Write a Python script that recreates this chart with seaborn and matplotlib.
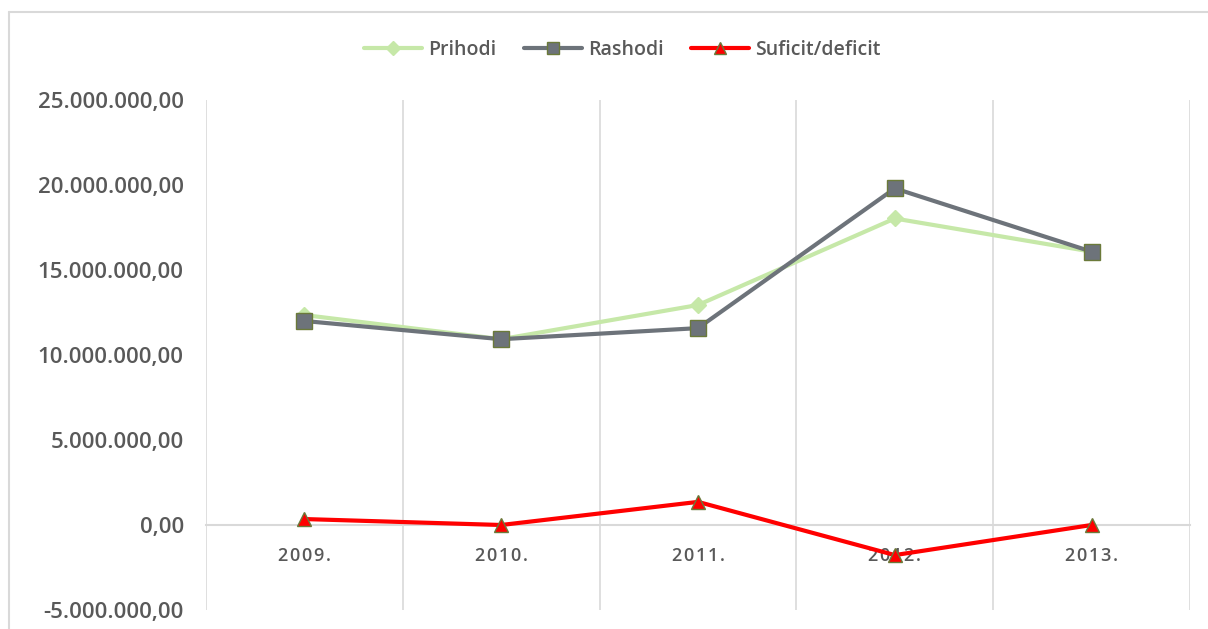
import pandas as pd
import matplotlib.pyplot as plt
import seaborn as sns
from matplotlib.lines import Line2D
from matplotlib.ticker import FuncFormatter

# Data
years = ['2009.', '2010.', '2011.', '2012.', '2013.']
prihodi = [12350000, 10930000, 12940000, 18030000, 16080000]
rashodi = [12000000, 10930000, 11580000, 19800000, 16080000]
suficit = [350000, 0, 1360000, -1770000, 0]

df = pd.DataFrame({'Godina': years, 'Prihodi': prihodi,
                   'Rashodi': rashodi, 'Suficit/deficit': suficit})

sns.set_style('white')
plt.rcParams['font.family'] = ['Open Sans', 'DejaVu Sans']

fig = plt.figure(figsize=(12.08, 6.29), dpi=100)
ax = fig.add_axes([206 / 1208, 1 - 610 / 629, (1190 - 206) / 1208, (610 - 100) / 629])

text_col = '#595959'
edge_col = '#6b7a3a'
styles = {
    'Prihodi': dict(color='#c6e8a8', marker='D', ms=8, mec='#c6e8a8'),
    'Rashodi': dict(color='#6d737a', marker='s', ms=11, mec=edge_col),
    'Suficit/deficit': dict(color='#ff0000', marker='^', ms=10, mec=edge_col),
}

x = list(range(len(years)))
for name, st in styles.items():
    sns.lineplot(x=x, y=df[name], ax=ax, color=st['color'], linewidth=3,
                 marker=st['marker'], markersize=st['ms'],
                 markeredgecolor=st['mec'], markeredgewidth=1,
                 markerfacecolor=st['color'], legend=False)

ax.set_xlim(-0.5, len(years) - 0.5)
ax.set_ylim(-5000000, 25000000)
ax.set_yticks(range(-5000000, 25000001, 5000000))


def fmt(v, pos):
    s = f"{abs(v):,.2f}".replace(',', 'X').replace('.', ',').replace('X', '.')
    return ('-' if v < 0 else '') + s


ax.yaxis.set_major_formatter(FuncFormatter(fmt))
ax.set_xticks(x)
# spread the year labels a little, like the original
ax.set_xticklabels(['\u200a'.join(y) for y in years])
ax.set_xticks([i - 0.5 for i in range(len(years) + 1)], minor=True)
ax.grid(axis='x', which='minor', color='#d9d9d9', linewidth=1.2)
ax.grid(axis='x', which='major', visible=False)
ax.grid(axis='y', visible=False)

for side in ['top', 'right', 'left']:
    ax.spines[side].set_visible(False)
ax.spines['bottom'].set_position(('data', 0))
ax.spines['bottom'].set_color('#d9d9d9')
ax.spines['bottom'].set_linewidth(1.5)
ax.spines['bottom'].set_zorder(0.5)

ax.tick_params(axis='x', which='both', length=0, pad=16, labelsize=13, labelcolor=text_col)
ax.tick_params(axis='y', length=0, pad=16, labelsize=16, labelcolor=text_col)
for lbl in ax.get_xticklabels():
    lbl.set_fontweight('semibold')
for lbl in ax.get_yticklabels():
    lbl.set_fontweight('semibold')
ax.set_xlabel('')
ax.set_ylabel('')

handles = [Line2D([0], [0], color=st['color'], lw=3, marker=st['marker'],
                  markersize=st['ms'] * 0.85, markerfacecolor=st['color'],
                  markeredgecolor=st['mec']) for st in styles.values()]
leg = fig.legend(handles, list(styles.keys()), loc='center', ncol=3,
                 bbox_to_anchor=(0.515, 1 - 50 / 629), frameon=False,
                 fontsize=14, handlelength=3, columnspacing=1.4, handletextpad=0.3)
for t in leg.get_texts():
    t.set_color(text_col)
    t.set_fontweight('semibold')

# chart area border
fig.add_artist(Line2D([9 / 1208, 1], [1 - 12 / 629, 1 - 12 / 629],
                      transform=fig.transFigure, color='#d9d9d9', lw=1.5))
fig.add_artist(Line2D([9 / 1208, 9 / 1208], [0, 1 - 12 / 629],
                      transform=fig.transFigure, color='#d9d9d9', lw=1.5))

fig.savefig('out.png', dpi=100)
